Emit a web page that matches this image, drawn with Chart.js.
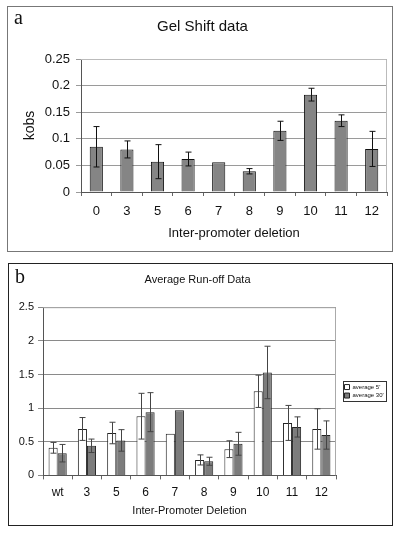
<!DOCTYPE html>
<html>
<head>
<meta charset="utf-8">
<script src="https://cdn.jsdelivr.net/npm/chart.js@4/dist/chart.umd.min.js"></script>
<style>
  html, body { margin: 0; padding: 0; background: #fff; width: 404px; height: 540px; overflow: hidden; }
  .panel { position: absolute; box-sizing: border-box; }
  #boxA { left: 7px; top: 6px; width: 386px; height: 246px; border: 1px solid #777; }
  #boxB { left: 8px; top: 263px; width: 385px; height: 263px; border: 1px solid #222; }
  canvas { position: absolute; left: 0; }
  #cA { top: 0; }
  #cB { top: 263px; }
  .letter { position: absolute; font-family: "Liberation Serif", "DejaVu Serif", serif; font-size: 20px; color: #111; }
  #la { left: 14px; top: 6px; }
  #lb { left: 15px; top: 265px; }
</style>
</head>
<body>
<div class="panel" id="boxA"></div>
<div class="panel" id="boxB"></div>
<canvas id="cA" width="404" height="255"></canvas>
<canvas id="cB" width="404" height="270"></canvas>
<div class="letter" id="la">a</div>
<div class="letter" id="lb">b</div>
<script>
// ---------- Panel a data ----------
const catsA = ['0', '3', '5', '6', '7', '8', '9', '10', '11', '12'];
const kobs = [0.085, 0.080, 0.057, 0.062, 0.056, 0.039, 0.115, 0.183, 0.134, 0.081];
const kobsErr = [0.038, 0.016, 0.032, 0.013, 0, 0.005, 0.018, 0.012, 0.011, 0.033];
const yTicksA = ['0', '0.05', '0.1', '0.15', '0.2', '0.25'];

// ---------- Panel b data ----------
const catsB = ['wt', '3', '5', '6', '7', '8', '9', '10', '11', '12'];
const avg5 = [0.41, 0.69, 0.63, 0.88, 0.62, 0.23, 0.39, 1.25, 0.78, 0.69];
const avg5Err = [0.08, 0.17, 0.16, 0.34, 0, 0.075, 0.125, 0.24, 0.26, 0.30];
const avg30 = [0.33, 0.44, 0.52, 0.94, 0.97, 0.21, 0.47, 1.53, 0.72, 0.60];
const avg30Err = [0.13, 0.10, 0.16, 0.29, 0, 0.06, 0.17, 0.39, 0.15, 0.21];
const yTicksB = ['0', '0.5', '1', '1.5', '2', '2.5'];

const FONT = '"Liberation Sans", Arial, sans-serif';

const errorBars = {
  id: 'errorBars',
  afterDatasetsDraw(chart, args, opts) {
    const ctx = chart.ctx;
    const ys = chart.scales.y;
    chart.data.datasets.forEach((ds, di) => {
      if (!ds.errors) return;
      const meta = chart.getDatasetMeta(di);
      meta.data.forEach((bar, i) => {
        const e = ds.errors[i];
        if (!e) return;
        const v = ds.data[i];
        const yt = ys.getPixelForValue(v + e);
        const yb = ys.getPixelForValue(v - e);
        const x = Math.round(bar.x) + 0.5;
        ctx.save();
        ctx.strokeStyle = opts.color || '#000';
        ctx.lineWidth = opts.width || 1;
        const c = opts.cap || 3;
        ctx.beginPath();
        ctx.moveTo(x, yt); ctx.lineTo(x, yb);
        ctx.moveTo(x - c, yt); ctx.lineTo(x + c, yt);
        ctx.moveTo(x - c, yb); ctx.lineTo(x + c, yb);
        ctx.stroke();
        ctx.restore();
      });
    });
  }
};

const areaBorder = {
  id: 'areaBorder',
  beforeDatasetsDraw(chart, args, opts) {
    const {left, right, top, bottom} = chart.chartArea;
    const ctx = chart.ctx;
    ctx.save();
    ctx.strokeStyle = opts.color || '#bbb';
    ctx.lineWidth = 1;
    ctx.beginPath();
    ctx.moveTo(left, top + 0.5); ctx.lineTo(right - 0.5, top + 0.5); ctx.lineTo(right - 0.5, bottom);
    ctx.stroke();
    ctx.restore();
  }
};

// Fixes the legend width and leaves a small gap between plot and legend
const legendTweak = {
  id: 'legendTweak',
  beforeLayout(chart, args, opts) {
    const lg = chart.legend;
    if (lg && !lg._tweaked) {
      const fit = lg.fit;
      lg.fit = function () { fit.call(this); this.width = opts.width; };
      lg._tweaked = true;
    }
  },
  afterLayout(chart, args, opts) {
    const lg = chart.legend;
    if (lg) { lg.left += opts.shift; lg.right += opts.shift; }
  },
  afterDraw(chart) {
    const lg = chart.legend;
    if (!lg || !lg.legendHitBoxes || !lg.legendHitBoxes.length) return;
    let x0 = Infinity, y0 = Infinity, x1 = -Infinity, y1 = -Infinity;
    lg.legendHitBoxes.forEach(b => {
      x0 = Math.min(x0, b.left); y0 = Math.min(y0, b.top);
      x1 = Math.max(x1, b.left + b.width); y1 = Math.max(y1, b.top + b.height);
    });
    const ctx = chart.ctx;
    ctx.save();
    ctx.strokeStyle = '#333';
    ctx.lineWidth = 1;
    ctx.strokeRect(Math.round(x0 - 2) + 0.5, Math.round(y0 - 3) + 0.5, Math.round(x1 - x0 + 4), Math.round(y1 - y0 + 5));
    ctx.restore();
  }
};

// ---------- Chart a ----------
new Chart(document.getElementById('cA'), {
  type: 'bar',
  data: {
    labels: catsA,
    datasets: [{
      label: 'kobs',
      data: kobs,
      errors: kobsErr,
      backgroundColor: '#858585',
      borderColor: '#111',
      borderWidth: 1,
      barPercentage: 0.43,
      categoryPercentage: 1.0
    }]
  },
  options: {
    responsive: false,
    animation: false,
    devicePixelRatio: 1,
    layout: { padding: { left: 18, right: 17, top: 0, bottom: 10 } },
    plugins: {
      legend: { display: false },
      tooltip: { enabled: false },
      title: {
        display: true,
        text: 'Gel Shift data',
        color: '#111',
        font: { family: FONT, size: 15, weight: 'normal', lineHeight: 1.2 },
        padding: { top: 18, bottom: 23 }
      },
      errorBars: { color: '#111', width: 1, cap: 3 },
      areaBorder: { color: '#bbb' }
    },
    scales: {
      x: {
        grid: { display: true, drawOnChartArea: false, drawTicks: true, tickLength: 4, color: '#666' },
        border: { color: '#555' },
        ticks: { color: '#111', font: { family: FONT, size: 13 }, padding: 8 },
        title: { display: true, text: 'Inter-promoter deletion', color: '#111', font: { family: FONT, size: 13 }, padding: { top: 4, bottom: 4 } },
        afterFit(s) { s.height = 53; }
      },
      y: {
        min: 0, max: 0.25,
        ticks: { stepSize: 0.05, color: '#111', font: { family: FONT, size: 13 }, padding: 6,
          callback: (v, i) => yTicksA[i] },
        grid: { color: '#9a9a9a', tickLength: 5 },
        border: { color: '#555' },
        title: { display: true, text: 'kobs', color: '#111', font: { family: FONT, size: 14 }, padding: { top: 4, bottom: 4 } },
        afterFit(s) { s.width = 63; }
      }
    }
  },
  plugins: [areaBorder, errorBars]
});

// ---------- Chart b ----------
new Chart(document.getElementById('cB'), {
  type: 'bar',
  data: {
    labels: catsB,
    datasets: [{
      label: "average 5'",
      data: avg5,
      errors: avg5Err,
      backgroundColor: '#ffffff',
      borderColor: '#222',
      borderWidth: 1,
      barPercentage: 1.0,
      categoryPercentage: 0.62
    }, {
      label: "average 30'",
      data: avg30,
      errors: avg30Err,
      backgroundColor: '#7c7c7c',
      borderColor: '#222',
      borderWidth: 1,
      barPercentage: 1.0,
      categoryPercentage: 0.62
    }]
  },
  options: {
    responsive: false,
    animation: false,
    devicePixelRatio: 1,
    layout: { padding: { left: 10, right: 19, top: 0, bottom: 11 } },
    plugins: {
      legend: {
        display: true,
        position: 'right',
        fullSize: false,
        align: 'center',
        labels: {
          boxWidth: 5, boxHeight: 5, padding: 2.5, color: '#111',
          font: { family: FONT, size: 6 }
        }
      },
      legendTweak: { width: 49, shift: 6 },
      tooltip: { enabled: false },
      title: {
        display: true,
        text: 'Average Run-off Data',
        color: '#111',
        font: { family: FONT, size: 11, weight: 'normal', lineHeight: 1.2 },
        padding: { top: 10, bottom: 21 }
      },
      errorBars: { color: '#444', width: 1, cap: 3 },
      areaBorder: { color: '#aaa' }
    },
    scales: {
      x: {
        grid: { display: true, drawOnChartArea: false, drawTicks: true, tickLength: 4, color: '#666' },
        border: { color: '#555' },
        ticks: { color: '#111', font: { family: FONT, size: 12 }, padding: 6 },
        title: { display: true, text: 'Inter-Promoter Deletion', color: '#111', font: { family: FONT, size: 11 }, padding: { top: 4, bottom: 4 } },
        afterFit(s) { s.height = 46.6; }
      },
      y: {
        min: 0, max: 2.5,
        ticks: { stepSize: 0.5, color: '#111', font: { family: FONT, size: 11 }, padding: 4,
          callback: (v, i) => yTicksB[i] },
        grid: { color: '#8a8a8a', tickLength: 5 },
        border: { color: '#555' },
        afterFit(s) { s.width = 33; }
      }
    }
  },
  plugins: [areaBorder, errorBars, legendTweak]
});
</script>
</body>
</html>
